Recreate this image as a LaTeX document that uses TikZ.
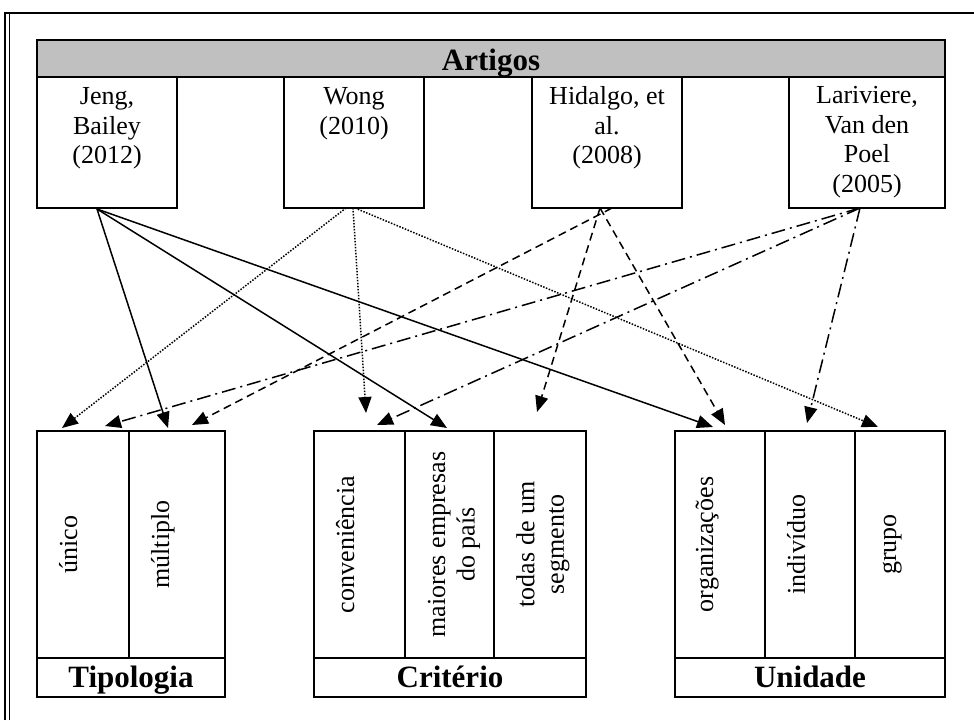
\documentclass[tikz,border=0pt]{standalone}
\usepackage{fontspec}
\setmainfont{Liberation Serif}
\usetikzlibrary{calc, arrows.meta}
\definecolor{headgray}{HTML}{C0C0C0}

\begin{document}
\begin{tikzpicture}[x=1pt, y=-1pt,
  box/.style={draw, line width=2pt, inner sep=0pt, outer sep=0pt},
  boxtext/.style={anchor=north, align=center, inner sep=0pt, font=\fontsize{26}{29.5}\selectfont},
  coltext/.style={rotate=90, anchor=base, align=center, inner sep=0pt, font=\fontsize{26}{29.5}\selectfont},
  bartext/.style={anchor=base, inner sep=0pt, font=\fontsize{31}{34}\selectfont\bfseries},
  link/.style={line width=1.5pt, -{Triangle[length=16pt, width=13pt]}},
  linkwong/.style={link, dash pattern=on 1.5pt off 1.5pt},
  linkhid/.style={link, dash pattern=on 8pt off 5pt},
  linklar/.style={link, dash pattern=on 14pt off 5pt on 2pt off 5pt}]
  \useasboundingbox (0,0) rectangle (974,720);
  \draw[line width=1.5pt] (5,720) -- (5,13) -- (974,13);
  \draw[line width=0.8pt] (9,720) -- (9,13);
  % articles
  \node[box, fill=headgray, minimum width=908pt, minimum height=37pt] (artigos) at (491,58.5) {};
  \node[bartext] (artigos-t) at (491,70) {Artigos};
  \node[box, minimum width=140pt, minimum height=131pt] (jeng) at (107,142.5) {};
  \node[box, minimum width=140pt, minimum height=131pt] (wong) at (354,142.5) {};
  \node[box, minimum width=150pt, minimum height=131pt] (hidalgo) at (607,142.5) {};
  \node[box, minimum width=156pt, minimum height=131pt] (lariviere) at (867,142.5) {};
  \node[boxtext] (jeng-t) at ($(jeng.north)+(0,7)$) {\strut Jeng,\\Bailey\\(2012)};
  \node[boxtext] (wong-t) at ($(wong.north)+(0,7)$) {\strut Wong\\(2010)};
  \node[boxtext] (hidalgo-t) at ($(hidalgo.north)+(0,7)$) {\strut Hidalgo, et\\al.\\(2008)};
  \node[boxtext] (lariviere-t) at ($(lariviere.north)+(0,6)$) {\strut Lariviere,\\Van den\\Poel\\(2005)};
  % categories
  \node[box, minimum width=92pt, minimum height=227pt] (unico) at (83,544.5) {};
  \node[box, minimum width=96pt, minimum height=227pt] (multiplo) at (177,544.5) {};
  \node[box, minimum width=91pt, minimum height=227pt] (conv) at (359.5,544.5) {};
  \node[box, minimum width=89pt, minimum height=227pt] (maiores) at (449.5,544.5) {};
  \node[box, minimum width=92pt, minimum height=227pt] (todas) at (540,544.5) {};
  \node[box, minimum width=90pt, minimum height=227pt] (org) at (720,544.5) {};
  \node[box, minimum width=90pt, minimum height=227pt] (indiv) at (810,544.5) {};
  \node[box, minimum width=90pt, minimum height=227pt] (grupo) at (900,544.5) {};
  \node[coltext] (unico-t) at ($(unico.west)+(40,0)$) {único};
  \node[coltext] (multiplo-t) at ($(multiplo.west)+(40,0)$) {múltiplo};
  \node[coltext] (conv-t) at ($(conv.west)+(40,0)$) {conveniência};
  \node[coltext, anchor=center] (maiores-t) at ($(maiores.west)+(49,0)$) {maiores empresas\\do país};
  \node[coltext, anchor=center] (todas-t) at ($(todas.west)+(49,0)$) {todas de um\\segmento};
  \node[coltext] (org-t) at ($(org.west)+(38,0)$) {organizações};
  \node[coltext] (indiv-t) at ($(indiv.west)+(40,0)$) {indivíduo};
  \node[coltext] (grupo-t) at ($(grupo.west)+(41,0)$) {grupo};
  \node[box, minimum width=188pt, minimum height=39pt] (tipologia) at (131,677.5) {};
  \node[box, minimum width=272pt, minimum height=39pt] (criterio) at (450,677.5) {};
  \node[box, minimum width=270pt, minimum height=39pt] (unidade) at (810,677.5) {};
  \node[bartext] (tipologia-t) at (131,687) {Tipologia};
  \node[bartext] (criterio-t) at (450,687) {Critério};
  \node[bartext] (unidade-t) at (810,687) {Unidade};
  % links
  \draw[link] ($(jeng.south)+(-10,1)$) -- ($(multiplo.north)+(-9,-3)$);
  \draw[link] ($(jeng.south)+(-10,1)$) -- ($(maiores.north)+(-2.5,-3)$);
  \draw[link] ($(jeng.south)+(-10,1)$) -- ($(org.north)+(-7,-4)$);
  \draw[linkwong] ($(wong.south)+(-8,0)$) -- ($(unico.north)+(-21,-3)$);
  \draw[linkwong] ($(wong.south)+(-1,0)$) -- ($(conv.north)+(6.5,-18)$);
  \draw[linkwong] ($(wong.south)+(1,0)$) -- ($(grupo.north)+(-22,-4)$);
  \draw[linkhid] ($(hidalgo.south)+(5,0)$) -- ($(multiplo.north)+(15,-6)$);
  \draw[linkhid] ($(hidalgo.south)+(-7,0)$) -- ($(todas.north)+(-3,-19)$);
  \draw[linkhid] ($(hidalgo.south)+(-7,0)$) -- ($(org.north)+(5,-6)$);
  \draw[linklar] ($(lariviere.south)+(-7,0)$) -- ($(unico.north)+(22,-5)$);
  \draw[linklar] ($(lariviere.south)+(-7,0)$) -- ($(conv.north)+(17.5,-6)$);
  \draw[linklar] ($(lariviere.south)+(-7,0)$) -- ($(indiv.north)+(-3,-8)$);
\end{tikzpicture}
\end{document}
